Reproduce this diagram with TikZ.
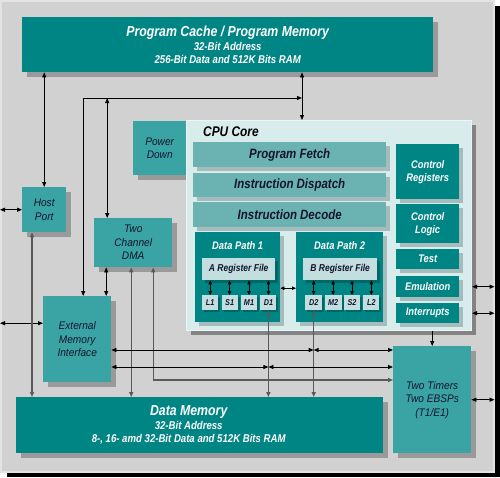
\documentclass[tikz,border=0pt]{standalone}
\usepackage{fontspec}
\setmainfont{Liberation Sans}[FakeStretch=0.85]
\newfontfamily\medfont{Liberation Sans}[FakeStretch=0.92]
\usetikzlibrary{positioning,shadows,arrows.meta}

\definecolor{panelgray}{HTML}{D1D1D1}
\definecolor{framelight}{HTML}{E2E2E2}
\definecolor{shadegray}{HTML}{9A9A9A}
\definecolor{innershade}{HTML}{A6BCBC}
\definecolor{darkteal}{HTML}{008585}
\definecolor{deepteal}{HTML}{006666}
\definecolor{midteal}{HTML}{3AA3A3}
\definecolor{barteal}{HTML}{6BB3B3}
\definecolor{corecyan}{HTML}{D9ECEC}
\definecolor{regcyan}{HTML}{C2DEDE}
\definecolor{inkblue}{HTML}{14142E}

\tikzset{
  blk/.style={anchor=north west, inner sep=0pt, align=center},
  outshade/.style={drop shadow={shadow xshift=5pt, shadow yshift=-5pt, fill=shadegray, opacity=1}},
  inshade/.style={drop shadow={shadow xshift=4pt, shadow yshift=-4pt, fill=innershade, opacity=1}},
  frame/.style={blk, fill=panelgray, draw=framelight, line width=1.5pt,
    minimum width=493pt, minimum height=471pt,
    drop shadow={shadow xshift=6pt, shadow yshift=-5pt, fill=black, opacity=1}},
  darkbox/.style={blk, outshade, fill=darkteal, text=white,
    font=\bfseries\itshape\fontsize{11.3}{13}\selectfont},
  midbox/.style={blk, outshade, fill=midteal, text=inkblue,
    font=\medfont\itshape\fontsize{11}{13.5}\selectfont},
  corepanel/.style={blk, fill=corecyan, draw=white!50!corecyan, line width=1pt,
    drop shadow={shadow xshift=4pt, shadow yshift=-4pt, fill=shadegray!85!black, opacity=1}},
  coretitle/.style={anchor=west, inner sep=0pt, text=black,
    font=\bfseries\itshape\fontsize{14}{16}\selectfont},
  barbox/.style={blk, inshade, fill=barteal, text=inkblue, minimum width=193pt, minimum height=25pt,
    font=\bfseries\itshape\fontsize{13.5}{15}\selectfont},
  ctrlbox/.style={blk, inshade, fill=darkteal, text=white, minimum width=63pt,
    font=\bfseries\itshape\fontsize{11}{13}\selectfont},
  pathbox/.style={blk, inshade, fill=darkteal, minimum height=90pt},
  pathtitle/.style={inner sep=0pt, text=white, font=\bfseries\itshape\fontsize{11}{13}\selectfont},
  regbox/.style={blk, fill=regcyan, text=inkblue, minimum height=22pt,
    drop shadow={shadow xshift=3pt, shadow yshift=-3pt, fill=deepteal, opacity=1},
    font=\bfseries\itshape\fontsize{10}{11}\selectfont},
  unitbox/.style={blk, fill=regcyan, text=inkblue, minimum width=16pt, minimum height=15pt,
    drop shadow={shadow xshift=2pt, shadow yshift=-2pt, fill=deepteal, opacity=1},
    font=\bfseries\itshape\fontsize{8.5}{10}\selectfont},
  link/.style={draw=black, line width=0.8pt},
  busline/.style={draw=black!65, line width=1.2pt},
  small tips/.style={>={Triangle[length=4pt,width=3.5pt]}}
}

\begin{document}
\begin{tikzpicture}[x=1pt, y=-1pt, >={Triangle[length=5pt,width=4pt]}]
  \useasboundingbox (0,0) rectangle (500,477);
  \node[frame] (Frame) at (0,0) {};

  \node[darkbox, minimum width=411pt, minimum height=55pt] (ProgramCache) at (22,17)
    {\fontsize{14.5}{16}\selectfont Program Cache / Program Memory\\[1pt]
     32-Bit Address\\ 256-Bit Data and 512K Bits RAM};
  \node[midbox, minimum width=44pt, minimum height=45pt] (HostPort) at (22,187) {Host\\Port};
  \node[midbox, minimum width=53pt, minimum height=54pt] (PowerDown) at (133,121) {Power\\Down};
  \node[midbox, minimum width=78pt, minimum height=49pt] (DMA) at (94,218) {Two\\Channel\\DMA};
  \node[midbox, minimum width=68pt, minimum height=86pt] (ExtMem) at (43,296) {External\\Memory\\Interface};
  \node[darkbox, minimum width=367pt, minimum height=56pt] (DataMem) at (16,397) {};
  \node[inner sep=0pt, align=center, text=white, font=\bfseries\itshape\fontsize{11.3}{13}\selectfont]
    (DataMemText) at ([xshift=-11pt]DataMem.center)
    {\fontsize{14.5}{16}\selectfont Data Memory\\[1pt]
     32-Bit Address\\ 8-, 16- amd 32-Bit Data and 512K Bits RAM};
  \node[midbox, minimum width=78pt, minimum height=107pt] (Timers) at (393,346) {Two Timers\\Two EBSPs\\(T1/E1)};

  \node[corepanel, minimum width=285pt, minimum height=210pt] (CPUCore) at (186,120) {};
  \node[coretitle] (CPUCoreTitle) at (203,132) {CPU Core};
  \node[barbox] (ProgramFetch) at (193,142) {Program Fetch};
  \node[barbox, minimum height=24pt] (InstrDispatch) at (193,173) {Instruction Dispatch};
  \node[barbox] (InstrDecode) at (193,202) {Instruction Decode};

  \node[ctrlbox, minimum height=55pt] (CtrlRegisters) at (396,144) {Control\\Registers};
  \node[ctrlbox, minimum height=39pt] (CtrlLogic) at (396,204) {Control\\Logic};
  \node[ctrlbox, minimum height=20pt] (Test) at (396,249) {Test};
  \node[ctrlbox, minimum height=21pt] (Emulation) at (396,276) {Emulation};
  \node[ctrlbox, minimum height=20pt] (Interrupts) at (396,303) {Interrupts};

  \node[pathbox, minimum width=85pt] (DataPath1) at (195,232) {};
  \node[pathbox, minimum width=87pt] (DataPath2) at (296,232) {};
  \node[pathtitle, below=9pt of DataPath1.north] (DataPath1Title) {Data Path 1};
  \node[pathtitle, below=9pt of DataPath2.north] (DataPath2Title) {Data Path 2};
  \node[regbox, minimum width=73pt] (ARegFile) at (202,258) {A Register File};
  \node[regbox, minimum width=74pt] (BRegFile) at (303,258) {B Register File};

  \node[unitbox] (L1) at (202,295) {L1};
  \node[unitbox, right=3pt of L1] (S1) {S1};
  \node[unitbox, right=3pt of S1] (M1) {M1};
  \node[unitbox, right=3pt of M1] (D1) {D1};
  \node[unitbox, minimum width=17pt] (D2) at (305,295) {D2};
  \node[unitbox, minimum width=17pt, right=2pt of D2] (M2) {M2};
  \node[unitbox, right=2pt of M2] (S2) {S2};
  \node[unitbox, right=3pt of S2] (L2) {L2};

  \coordinate (PBus) at (302,98);
  \coordinate (BusA) at (0,350);
  \coordinate (BusB) at (0,367);
  \coordinate (BusC) at (0,380);

  \foreach \u in {L1,S1,M1,D1}
    \draw[link, small tips, <->] (\u.north) -- (\u.north |- ARegFile.south);
  \foreach \u in {D2,M2,S2,L2}
    \draw[link, small tips, <->] (\u.north) -- (\u.north |- BRegFile.south);
  \draw[link, small tips, <->] ([yshift=-11pt]DataPath1.east) -- ([yshift=-11pt]DataPath2.west);

  \draw[link, <->] (HostPort.north) -- (HostPort.north |- ProgramCache.south);
  \draw[link, <->] (ProgramCache.south -| PBus) -- (CPUCore.north -| PBus);
  \draw[link, <->] ([xshift=6pt]ExtMem.north) |- (PBus);
  \draw[link, <->] ([xshift=-26pt]DMA.north) -- ([xshift=-26pt]DMA.north |- PBus);
  \draw[link, <->] (HostPort.west) -- (HostPort.west -| Frame.west);
  \draw[link, <->] ([yshift=16pt]ExtMem.west) -- ([yshift=16pt]ExtMem.west -| Frame.west);

  \draw[busline, <->] ([xshift=10pt]HostPort.south west) -- ([xshift=10pt]HostPort.south west |- DataMem.north);
  \draw[link, <->] ([xshift=-27pt]DMA.south) -- ([xshift=-27pt]DMA.south |- ExtMem.north);
  \draw[busline, <->] ([xshift=-2pt]DMA.south) -- ([xshift=-2pt]DMA.south |- DataMem.north);
  \draw[busline, <->] ([xshift=20pt]DMA.south) |- (Timers.west |- BusC);
  \draw[busline, <->] (D1.south) -- (D1.south |- DataMem.north);
  \draw[busline, <->] (D2.south) -- (D2.south |- DataMem.north);

  \draw[link, <->] (ExtMem.east |- BusA) -- (D2.south |- BusA);
  \draw[link, <->] (D2.south |- BusA) -- (Timers.west |- BusA);
  \draw[link, <->] (ExtMem.east |- BusB) -- (D1.south |- BusB);
  \draw[link, <->] (D1.south |- BusB) -- (Timers.west |- BusB);

  \draw[link, ->] (Timers.north |- CPUCore.south) -- (Timers.north);
  \draw[link, <->] (CPUCore.east |- Emulation) -- (Frame.east |- Emulation);
  \draw[link, <->] (CPUCore.east |- Interrupts) -- (Frame.east |- Interrupts);
  \draw[link, <->] (Timers.east) -- (Frame.east |- Timers);
\end{tikzpicture}
\end{document}
